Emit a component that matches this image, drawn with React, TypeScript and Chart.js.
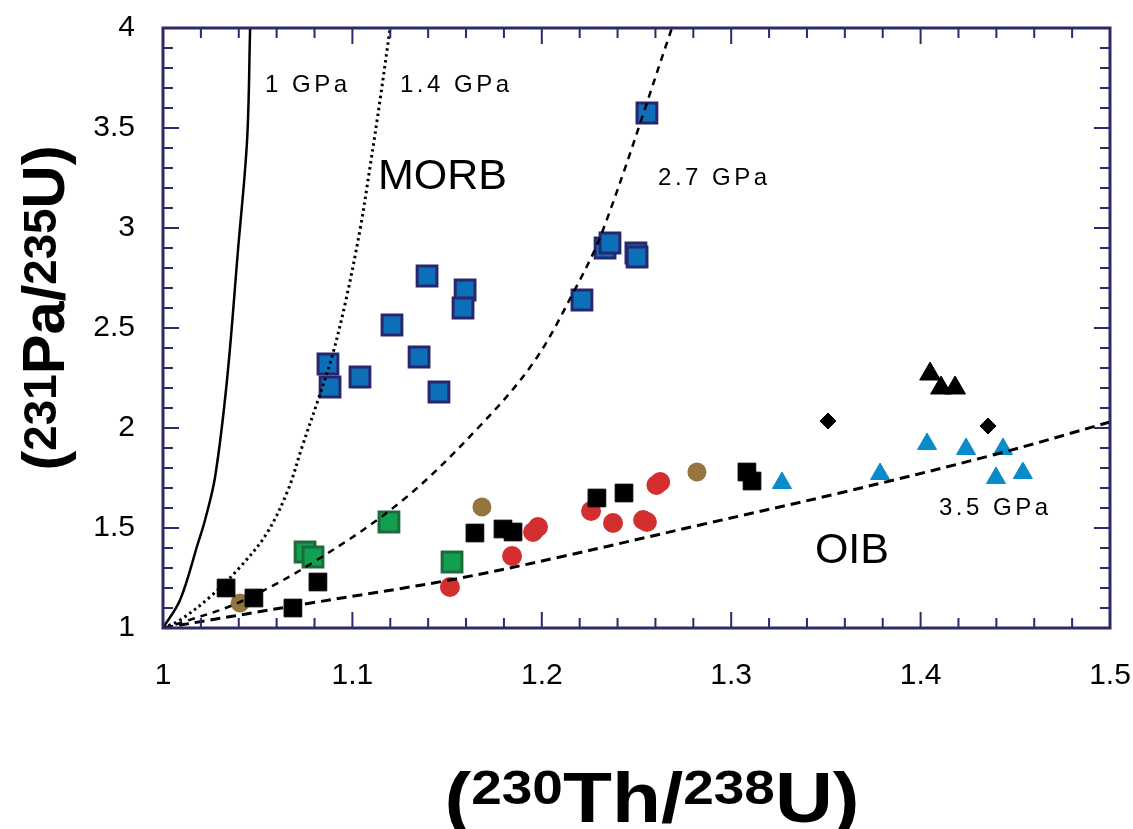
import React, { useEffect, useRef } from "react";
import { Chart, registerables } from "chart.js";

Chart.register(...registerables);

// ---------- Data ----------
// Melting model curves (x = 230Th/238U, y = 231Pa/235U)
const gpa1X = [1, 1.009, 1.0185, 1.0222, 1.0275, 1.0338, 1.0396, 1.0444, 1.046];
const gpa1Y = [1, 1.14, 1.425, 1.54, 1.755, 2.24, 2.89, 3.44, 4.0];

const gpa14X = [1, 1.009, 1.0248, 1.0407, 1.0549, 1.066, 1.0734, 1.0824, 1.0892, 1.0966, 1.104, 1.1093, 1.1146, 1.1199];
const gpa14Y = [1, 1.04, 1.155, 1.305, 1.475, 1.69, 1.905, 2.155, 2.355, 2.64, 2.99, 3.305, 3.64, 4.0];

const gpa27X = [1, 1.009, 1.0407, 1.0813, 1.1267, 1.1663, 1.1954, 1.2165, 1.2323, 1.2687];
const gpa27Y = [1, 1.025, 1.13, 1.34, 1.64, 2.0, 2.325, 2.675, 2.99, 4.0];

const gpa35X = [1, 1.075, 1.1515, 1.2096, 1.2835, 1.3574, 1.4382, 1.5];
const gpa35Y = [1, 1.12, 1.24, 1.355, 1.515, 1.675, 1.865, 2.03];

// MORB (blue squares)
const morbX = [1.2555, 1.2334, 1.236, 1.2497, 1.2503, 1.2212, 1.1394, 1.1595, 1.1584, 1.1209, 1.1352, 1.1457, 1.0871, 1.0882, 1.104];
const morbY = [3.575, 2.9, 2.925, 2.875, 2.855, 2.64, 2.76, 2.69, 2.6, 2.515, 2.355, 2.18, 2.32, 2.205, 2.255];

// Green squares
const greenX = [1.1193, 1.075, 1.0792, 1.1526];
const greenY = [1.53, 1.38, 1.355, 1.33];

// Black squares
const blackSqX = [1.0333, 1.048, 1.0686, 1.0818, 1.1647, 1.1795, 1.1848, 1.2291, 1.2434, 1.3083, 1.311];
const blackSqY = [1.2, 1.15, 1.1, 1.23, 1.475, 1.495, 1.48, 1.65, 1.675, 1.78, 1.735];

// Black triangles
const blackTriX = [1.405, 1.4108, 1.4182];
const blackTriY = [2.27, 2.2, 2.2];

// Black diamonds
const diamondX = [1.3511, 1.4356];
const diamondY = [2.035, 2.01];

// Blue triangles
const blueTriX = [1.3268, 1.3786, 1.4034, 1.424, 1.4435, 1.4398, 1.454];
const blueTriY = [1.725, 1.77, 1.92, 1.895, 1.895, 1.75, 1.775];

// Red circles
const redX = [1.1515, 1.1843, 1.1954, 1.198, 1.226, 1.2376, 1.2535, 1.2555, 1.2605, 1.2625];
const redY = [1.205, 1.36, 1.48, 1.505, 1.585, 1.525, 1.54, 1.53, 1.715, 1.73];

// Brown circles
const brownX = [1.0407, 1.1684, 1.2819];
const brownY = [1.125, 1.605, 1.78];

// Axis ticks
const xMin = 1, xMax = 1.5, xStep = 0.1, xMinorStep = 0.02;
const yMin = 1, yMax = 4, yStep = 0.5, yMinorStep = 0.1;

// Annotation labels (text + data anchor)
const labelTexts = ["1 GPa", "1.4 GPa", "MORB", "2.7 GPa", "3.5 GPa", "OIB"];
const labelX = [1.0539, 1.1251, 1.1135, 1.2614, 1.4097, 1.3442];
const labelY = [3.715, 3.715, 3.255, 3.25, 1.6, 1.385];

const toPts = (xs: number[], ys: number[]) => xs.map((x, i) => ({ x, y: ys[i] }));
const fmt = (v: any) => String(parseFloat(Number(v).toFixed(2)));

const NAVY = "#2b2a6b";
const FONT = "'Liberation Sans', Arial, Helvetica, sans-serif";

type Part = { t: string; sup: boolean };

function drawRich(ctx: CanvasRenderingContext2D, parts: Part[], mainSize: number, supSize: number, raise: number, targetWidth: number) {
  const mainFont = `bold ${mainSize}px ${FONT}`;
  const supFont = `bold ${supSize}px ${FONT}`;
  let total = 0;
  const widths = parts.map((p) => {
    ctx.font = p.sup ? supFont : mainFont;
    const w = ctx.measureText(p.t).width;
    total += w;
    return w;
  });
  const sx = targetWidth / total;
  ctx.save();
  ctx.scale(sx, 1);
  let x = -total / 2;
  ctx.textAlign = "left";
  ctx.textBaseline = "alphabetic";
  ctx.fillStyle = "#000";
  parts.forEach((p, i) => {
    ctx.font = p.sup ? supFont : mainFont;
    ctx.fillText(p.t, x, p.sup ? -raise : 0);
    x += widths[i];
  });
  ctx.restore();
}

const framePlugin = {
  id: "frameTicks",
  afterDatasetsDraw(chart: any) {
    const { ctx, chartArea: a, scales } = chart;
    const xs = scales.x;
    const ys = scales.y;
    ctx.save();
    ctx.strokeStyle = NAVY;
    ctx.lineWidth = 2;
    ctx.setLineDash([]);
    ctx.beginPath();
    const nx = Math.round((xMax - xMin) / xMinorStep);
    for (let i = 0; i <= nx; i++) {
      const v = xMin + i * xMinorStep;
      const px = xs.getPixelForValue(v);
      const len = i % 5 === 0 ? 16 : 10;
      ctx.moveTo(px, a.bottom);
      ctx.lineTo(px, a.bottom - len);
      ctx.moveTo(px, a.top);
      ctx.lineTo(px, a.top + len);
    }
    const ny = Math.round((yMax - yMin) / yMinorStep);
    for (let i = 0; i <= ny; i++) {
      const v = yMin + i * yMinorStep;
      const py = ys.getPixelForValue(v);
      const len = i % 5 === 0 ? 16 : 10;
      ctx.moveTo(a.left, py);
      ctx.lineTo(a.left + len, py);
      ctx.moveTo(a.right, py);
      ctx.lineTo(a.right - len, py);
    }
    ctx.stroke();
    ctx.lineWidth = 3;
    ctx.strokeRect(a.left, a.top, a.right - a.left, a.bottom - a.top);
    ctx.restore();
  },
};

const labelPlugin = {
  id: "labels",
  afterDatasetsDraw(chart: any) {
    const { ctx, scales } = chart;
    ctx.save();
    ctx.fillStyle = "#000";
    ctx.textAlign = "left";
    ctx.textBaseline = "middle";
    labelTexts.forEach((t, i) => {
      const big = !t.includes("GPa");
      ctx.font = big ? `43px ${FONT}` : `24px ${FONT}`;
      (ctx as any).letterSpacing = big ? "0px" : "3.5px";
      ctx.fillText(t, scales.x.getPixelForValue(labelX[i]), scales.y.getPixelForValue(labelY[i]));
    });
    (ctx as any).letterSpacing = "0px";
    ctx.restore();
  },
};

const titlePlugin = {
  id: "titles",
  afterDraw(chart: any) {
    const { ctx } = chart;
    // X title
    ctx.save();
    ctx.translate(652, 822);
    drawRich(
      ctx,
      [
        { t: "(", sup: false },
        { t: "230", sup: true },
        { t: "Th/", sup: false },
        { t: "238", sup: true },
        { t: "U)", sup: false },
      ],
      70,
      48,
      18,
      415
    );
    ctx.restore();
    // Y title
    ctx.save();
    ctx.translate(64, 308);
    ctx.rotate(-Math.PI / 2);
    drawRich(
      ctx,
      [
        { t: "(", sup: false },
        { t: "231", sup: true },
        { t: "Pa/", sup: false },
        { t: "235", sup: true },
        { t: "U)", sup: false },
      ],
      60,
      46,
      8,
      325
    );
    ctx.restore();
  },
};

const zeroPad = (s: any) => {
  s.paddingTop = 0;
  s.paddingBottom = 0;
  s.paddingLeft = 0;
  s.paddingRight = 0;
};

export default function App() {
  const ref = useRef<HTMLCanvasElement | null>(null);

  useEffect(() => {
    if (!ref.current) return;
    const lineBase = {
      type: "line" as const,
      showLine: true,
      pointRadius: 0,
      pointHoverRadius: 0,
      fill: false,
      borderColor: "#000",
      tension: 0.35,
    };
    const chart = new Chart(ref.current, {
      type: "scatter",
      data: {
        datasets: [
          { ...lineBase, label: "1 GPa", data: toPts(gpa1X, gpa1Y), borderWidth: 2.5 },
          { ...lineBase, label: "1.4 GPa", data: toPts(gpa14X, gpa14Y), borderWidth: 3, borderDash: [2.5, 3.5] },
          { ...lineBase, label: "2.7 GPa", data: toPts(gpa27X, gpa27Y), borderWidth: 2.5, borderDash: [7, 6] },
          { ...lineBase, label: "3.5 GPa", data: toPts(gpa35X, gpa35Y), borderWidth: 3, borderDash: [10, 6] },
          {
            label: "Black diamonds",
            data: toPts(diamondX, diamondY),
            pointStyle: "rectRot",
            pointRadius: 8,
            backgroundColor: "#000",
            borderColor: "#000",
            borderWidth: 1,
          },
          {
            label: "Black triangles",
            data: toPts(blackTriX, blackTriY),
            pointStyle: "triangle",
            pointRadius: 12,
            backgroundColor: "#000",
            borderColor: "#000",
            borderWidth: 1,
          },
          {
            label: "Blue triangles",
            data: toPts(blueTriX, blueTriY),
            pointStyle: "triangle",
            pointRadius: 11,
            backgroundColor: "#0a8bc9",
            borderColor: "#0a8bc9",
            borderWidth: 1,
          },
          {
            label: "Black squares",
            data: toPts(blackSqX, blackSqY),
            pointStyle: "rect",
            pointRadius: 12.5,
            backgroundColor: "#000",
            borderColor: "#000",
            borderWidth: 1,
          },
          {
            label: "Red circles",
            data: toPts(redX, redY),
            pointStyle: "circle",
            pointRadius: 10,
            backgroundColor: "#d42f2f",
            borderColor: "#d42f2f",
            borderWidth: 0,
          },
          {
            label: "Brown circles",
            data: toPts(brownX, brownY),
            pointStyle: "circle",
            pointRadius: 9.5,
            backgroundColor: "#94743f",
            borderColor: "#94743f",
            borderWidth: 0,
          },
          {
            label: "Green squares",
            data: toPts(greenX, greenY),
            pointStyle: "rect",
            pointRadius: 14,
            backgroundColor: "#10a050",
            borderColor: "#1d6b3c",
            borderWidth: 3,
          },
          {
            label: "MORB",
            data: toPts(morbX, morbY),
            pointStyle: "rect",
            pointRadius: 14,
            backgroundColor: "#0d6fb8",
            borderColor: "#27276e",
            borderWidth: 3,
          },
        ] as any,
      },
      options: {
        responsive: false,
        animation: false,
        devicePixelRatio: 1,
        layout: { padding: { left: 0, top: 28, right: 23, bottom: 0 } },
        plugins: {
          legend: { display: false },
          tooltip: { enabled: false },
        },
        scales: {
          x: {
            type: "linear",
            min: xMin,
            max: xMax,
            ticks: {
              stepSize: xStep,
              color: "#000",
              font: { family: FONT, size: 30 },
              padding: 22,
              maxRotation: 0,
              autoSkip: false,
              callback: fmt,
            },
            grid: { display: false },
            border: { display: false },
            afterFit: (s: any) => {
              s.height = 201;
              zeroPad(s);
            },
          },
          y: {
            type: "linear",
            min: yMin,
            max: yMax,
            ticks: {
              stepSize: yStep,
              color: "#000",
              font: { family: FONT, size: 30 },
              padding: 20,
              autoSkip: false,
              callback: fmt,
            },
            grid: { display: false },
            border: { display: false },
            afterFit: (s: any) => {
              s.width = 163;
              zeroPad(s);
            },
          },
        },
      } as any,
      plugins: [labelPlugin, framePlugin, titlePlugin],
    });
    return () => chart.destroy();
  }, []);

  return (
    <div style={{ position: "absolute", left: 0, top: 0, width: 1133, height: 829, background: "#fff" }}>
      <canvas ref={ref} width={1133} height={829} style={{ display: "block" }} />
    </div>
  );
}
